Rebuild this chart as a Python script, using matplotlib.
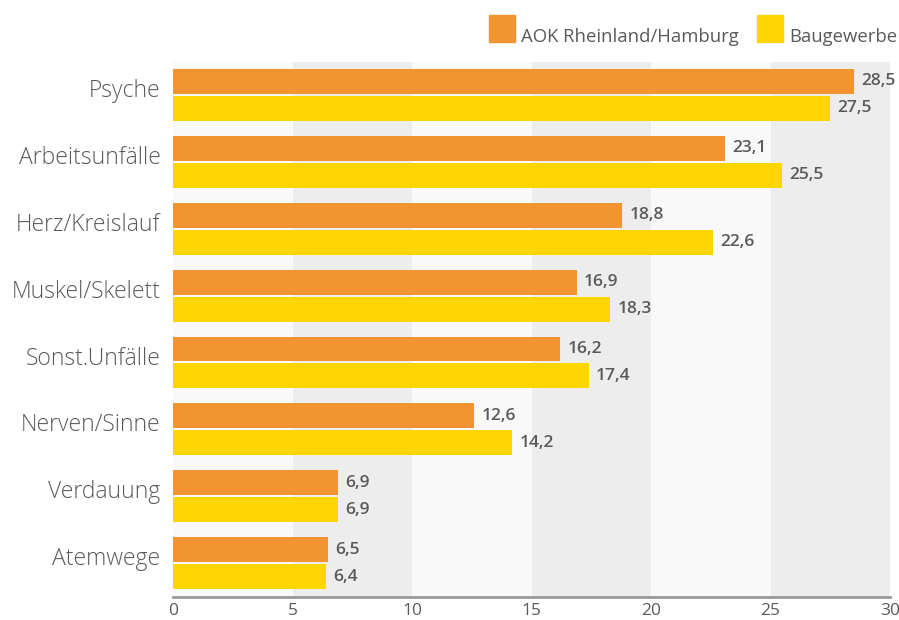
import matplotlib
matplotlib.use("Agg")
import matplotlib.pyplot as plt
from matplotlib.patches import Rectangle
import numpy as np

categories = ["Psyche", "Arbeitsunfälle", "Herz/Kreislauf", "Muskel/Skelett",
              "Sonst.Unfälle", "Nerven/Sinne", "Verdauung", "Atemwege"]
aok = [28.5, 23.1, 18.8, 16.9, 16.2, 12.6, 6.9, 6.5]
bau = [27.5, 25.5, 22.6, 18.3, 17.4, 14.2, 6.9, 6.4]
series_names = ["AOK Rheinland/Hamburg", "Baugewerbe"]
xticks = [0, 5, 10, 15, 20, 25, 30]

c_orange = "#f39433"
c_yellow = "#fdd500"
c_text = "#5a5a5a"

plt.rcParams['font.family'] = ['Open Sans', 'DejaVu Sans']

fig = plt.figure(figsize=(8.99, 6.2), dpi=100)
ax = fig.add_axes([173/899, 1-597/620, (890-173)/899, (597-62)/620])

n = len(categories)
ax.set_ylim(n, 0)
ax.set_xlim(0, 30)

# background bands
for i, x0 in enumerate(xticks[:-1]):
    col = "#f9f9f9" if i % 2 == 0 else "#ededed"
    ax.axvspan(x0, x0 + 5, color=col, zorder=0, lw=0)

h = 0.373
gap = 0.03
top_pad = 0.105
y = np.arange(n)
y_o = y + top_pad + h/2
y_y = y + top_pad + h + gap + h/2
ax.barh(y_o, aok, height=h, color=c_orange, zorder=2)
ax.barh(y_y, bau, height=h, color=c_yellow, zorder=2)

def fmt(v):
    return f"{v:.1f}".replace(".", ",")

for yy, v in zip(y_o, aok):
    ax.text(v + 0.3, yy, fmt(v), va="center", ha="left", fontsize=12.5,
            color=c_text, fontweight="semibold", zorder=3)
for yy, v in zip(y_y, bau):
    ax.text(v + 0.3, yy, fmt(v), va="center", ha="left", fontsize=12.5,
            color=c_text, fontweight="semibold", zorder=3)

ax.set_yticks(y + 0.39)
ax.set_yticklabels(categories, fontsize=16.5, color=c_text, fontweight="light")
ax.set_xticks(xticks)
ax.set_xticklabels([str(t) for t in xticks], fontsize=12.5, color=c_text)
ax.tick_params(axis="both", length=0)
ax.tick_params(axis="y", pad=9)
ax.tick_params(axis="x", pad=4)
for s in ["top", "right", "left"]:
    ax.spines[s].set_visible(False)
ax.spines["bottom"].set_color("#999999")
ax.spines["bottom"].set_linewidth(2)
ax.spines["bottom"].set_zorder(4)

# legend
W, H = 899, 620
def fx(px): return px / W
def fy(py): return 1 - py / H
fig.patches.append(Rectangle((fx(489), fy(42)), 26/W, 27/H, transform=fig.transFigure,
                             color=c_orange, figure=fig))
fig.text(fx(521), fy(42), series_names[0], fontsize=13.3, color=c_text, ha="left", va="baseline")
fig.patches.append(Rectangle((fx(757), fy(42)), 26/W, 27/H, transform=fig.transFigure,
                             color=c_yellow, figure=fig))
fig.text(fx(789), fy(42), series_names[1], fontsize=13.3, color=c_text, ha="left", va="baseline")

fig.savefig("out.png", dpi=100)
